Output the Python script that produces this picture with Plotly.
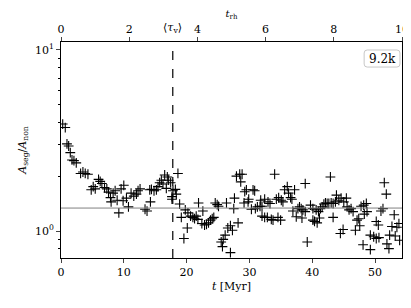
import plotly.graph_objects as go
import math

# ---- data ----
t_myr = [0.27, 0.68, 0.95, 1.22, 1.48, 1.75, 2.06, 2.43, 3.12, 3.49, 3.86, 4.29, 4.81, 5.13, 5.45,
         5.98, 6.24, 6.51, 6.93, 7.30, 7.57, 7.88, 7.98, 8.30, 8.62, 8.94, 9.21, 9.57, 10.0, 9.89,
         10.42, 10.74, 11.16, 11.59, 12.01, 12.27, 12.59, 13.38, 13.70, 14.13, 14.24,
         14.40, 14.81, 15.19, 15.44, 15.71, 15.98, 16.24, 16.51, 16.93, 17.14, 17.46, 16.77, 17.83,
         18.21, 18.36, 17.67, 17.67, 18.62, 18.89, 19.79, 19.16, 20.21, 20.63, 21.0, 21.27, 21.53,
         21.80, 21.90, 22.59, 22.43, 22.86, 23.17, 23.49, 23.81, 24.08, 24.33, 20.11, 19.57, 24.56,
         24.87, 25.08, 26.35, 27.51, 27.62, 26.56, 26.98, 27.30, 26.14, 25.83, 25.51, 25.71, 26.98,
         27.94, 28.46, 28.84, 28.62, 28.20, 29.26, 29.52, 29.89, 29.15, 29.79, 30.58, 30.84, 30.32,
         30.95, 31.27, 31.69, 32.01, 31.80, 32.43, 32.96, 33.28, 32.01, 32.43, 32.86, 33.49, 33.76,
         34.55, 34.97, 34.02, 34.29, 34.66, 35.08, 35.34, 35.61, 36.03, 36.24, 36.56, 36.77, 37.19,
         36.93, 37.46, 37.73, 37.98, 38.25, 38.52, 38.37, 38.89, 38.89, 39.73, 40.11, 40.63, 41.0,
         41.32, 40.11, 40.37, 40.79, 41.16, 39.21,
         41.59, 41.86, 42.11, 42.38, 42.65, 43.02, 43.33, 43.70, 43.86, 44.24, 44.60, 45.03, 45.44,
         45.56, 45.87, 46.19, 46.51, 42.90, 43.33, 44.49, 44.92, 46.88, 47.14, 47.41, 47.57, 47.78,
         48.20, 48.62, 48.73, 48.30, 48.10, 49.26, 49.26, 49.79, 50.20, 50.63, 50.20, 50.53, 50.95,
         51.27, 51.48, 51.80, 51.90, 52.22, 52.33, 52.70, 53.06, 53.22, 53.49, 53.81, 53.92]
ratio = [3.90, 3.73, 3.03, 2.95, 2.71, 2.47, 2.45, 2.38, 2.08, 2.12, 2.08, 2.06, 1.69, 1.76, 1.71,
         1.93, 1.88, 1.83, 1.74, 1.71, 1.64, 1.53, 1.45, 1.62, 1.67, 1.48, 1.26, 1.71, 1.79, 1.47,
         1.52, 1.36, 1.62, 1.56, 1.60, 1.67, 1.71, 1.32, 1.29, 1.69, 1.45,
         1.70, 1.67, 1.69, 1.76, 1.85, 1.91, 1.82, 2.04, 1.99, 1.91, 1.85, 1.72, 1.67,
         1.70, 1.60, 1.55, 1.50, 2.08, 1.41, 1.31, 1.19, 1.26, 1.21, 1.19, 1.17, 1.21,
         1.16, 1.43, 1.29, 1.10, 1.08, 1.09, 1.11, 1.15, 1.17, 1.19, 1.04, 0.91, 1.43,
         1.40, 1.37, 1.43, 1.33, 1.52, 1.04, 1.07, 1.01, 0.95, 0.90, 0.87, 0.82, 0.76,
         2.01, 2.06, 2.06, 1.87, 1.11, 1.65, 1.69, 1.50, 1.43, 1.45, 1.69, 1.67, 1.32,
         1.33, 1.36, 1.37, 1.37, 1.48, 1.50, 1.45, 1.42, 1.21, 1.19, 1.19, 1.16, 1.15,
         1.19, 1.15, 2.06, 1.50, 1.53, 1.48, 1.45, 1.69, 1.76, 1.62, 1.53, 1.50, 1.69,
         1.29, 1.20, 1.33, 1.36, 1.33, 1.31, 1.18, 1.28, 1.83, 1.39, 1.33, 1.31, 1.28,
         1.33, 1.15, 1.13, 1.11, 1.18, 0.87,
         1.36, 1.41, 1.43, 1.42, 1.42, 1.43, 1.42, 1.45, 1.58, 1.48, 1.52, 1.45, 1.52,
         1.36, 1.31, 1.33, 1.28, 1.99, 1.19, 0.97, 1.02, 1.01, 1.15, 1.17, 1.07, 1.37,
         1.39, 1.42, 1.28, 1.24, 0.84, 0.79, 0.95, 0.93, 0.91, 0.92, 1.13, 1.08, 1.29,
         1.33, 1.85, 1.60, 0.85, 0.80, 0.95, 1.06, 1.23, 0.94, 1.05, 1.10, 0.89]

t_max = 54.3          # Myr, right edge of the axis
t_rh = 5.43           # Myr per half-mass relaxation time
tau_v = 17.8          # Myr
mean_ratio = 1.34
y_range = [0.71, 11.07]
x_ticks = [0, 10, 20, 30, 40, 50]
top_ticks = [0, 2, 4, 6, 8, 10]
label = "9.2k"

FONT = "DejaVu Serif"

fig = go.Figure()
fig.add_trace(go.Scatter(
    x=t_myr, y=ratio, mode="markers",
    marker=dict(symbol="cross-thin", size=7, line=dict(color="black", width=1.1), color="black"),
    showlegend=False, xaxis="x", yaxis="y"))
top_max = t_max / t_rh + 1e-6
# invisible trace carrying the top axis
fig.add_trace(go.Scatter(x=[0, top_max], y=[1, 1], mode="markers",
                         marker=dict(opacity=0), showlegend=False, hoverinfo="skip",
                         xaxis="x2", yaxis="y"))

fig.add_shape(type="line", xref="x", yref="paper", x0=tau_v, x1=tau_v, y0=0, y1=1,
              line=dict(color="black", width=1.2, dash="dash"))
yfrac = (math.log10(mean_ratio) - math.log10(y_range[0])) / \
        (math.log10(y_range[1]) - math.log10(y_range[0]))
fig.add_shape(type="line", xref="paper", yref="paper", x0=0, x1=1, y0=yfrac, y1=yfrac,
              line=dict(color="#808080", width=1))

# rounded label box
x0, x1, y0, y1 = 0.889, 0.994, 0.884, 0.963
rx, ry = 0.009, 0.014
path = (f"M {x0+rx},{y0} L {x1-rx},{y0} Q {x1},{y0} {x1},{y0+ry} L {x1},{y1-ry} "
        f"Q {x1},{y1} {x1-rx},{y1} L {x0+rx},{y1} Q {x0},{y1} {x0},{y1-ry} "
        f"L {x0},{y0+ry} Q {x0},{y0} {x0+rx},{y0} Z")
fig.add_shape(type="path", xref="paper", yref="paper", path=path,
              line=dict(color="#c8c8c8", width=1), fillcolor="white", layer="above")
fig.add_annotation(xref="paper", yref="paper", x=(x0 + x1) / 2, y=(y0 + y1) / 2,
                   xanchor="center", yanchor="middle",
                   text=label, showarrow=False, font=dict(family=FONT, size=12, color="black"))

fig.add_annotation(xref="x", yref="paper", x=tau_v, y=1, yshift=5, yanchor="bottom",
                   text="⟨<i>τ</i><sub>v</sub>⟩", showarrow=False,
                   font=dict(family=FONT, size=11, color="black"))

minor_vals = [0.8, 0.9] + list(range(2, 10))

# the page body adds an 8px offset at the top-left
fig.update_layout(
    width=403, height=292,
    margin=dict(l=53, r=9, t=34, b=42, autoexpand=False),
    paper_bgcolor="white", plot_bgcolor="white",
    font=dict(family=FONT, size=11, color="black"),
    xaxis=dict(range=[0, t_max], tickvals=x_ticks, ticks="outside", ticklen=4,
               showline=True, linecolor="black", linewidth=1, mirror=False,
               showgrid=False, zeroline=False, automargin=False,
               title=dict(text="<i>t</i> [Myr]", standoff=4, font=dict(size=11))),
    xaxis2=dict(range=[0, top_max], tickvals=top_ticks, overlaying="x", side="top",
                ticks="outside", ticklen=4, showline=True, linecolor="black", linewidth=1,
                showgrid=False, zeroline=False, automargin=False, ticklabeloverflow="allow",
                title=dict(text="<i>t</i><sub>rh</sub>", standoff=4, font=dict(size=10))),
    yaxis=dict(type="log", range=[math.log10(y_range[0]), math.log10(y_range[1])],
               tickvals=[1, 10], ticktext=["10<sup>0</sup>", "10<sup>1</sup>"],
               ticks="outside", ticklen=4, showline=True, linecolor="black", linewidth=1,
               mirror=True, showgrid=False, zeroline=False, automargin=False,
               minor=dict(tickvals=minor_vals, ticks="outside", ticklen=2, tickcolor="black"),
               title=dict(text="<i>A</i><sub>seg</sub>/<i>A</i><sub>non</sub>", standoff=6,
                          font=dict(size=11))),
)

fig.write_html("out.html")
